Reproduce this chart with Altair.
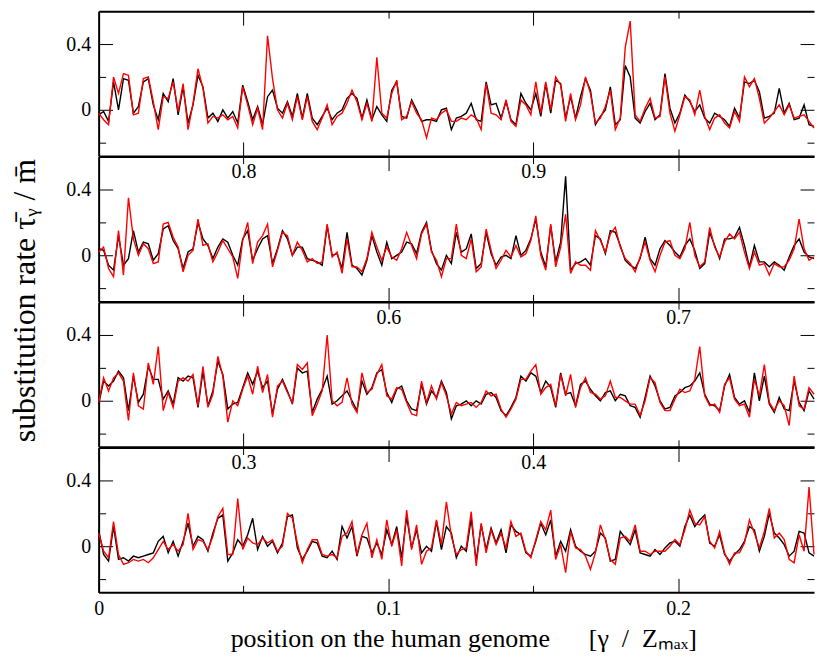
import altair as alt
import pandas as pd

FONT = "Liberation Serif"
SPAN = 0.2469          # visible part of each 0.25-wide strip
PANEL_W = 718
PANEL_H = 145.3
Y_DOMAIN = [-0.28, 0.6]

starts = [0.75, 0.5, 0.25, 0.0]
x_major = {0.75: [0.8, 0.9], 0.5: [0.6, 0.7], 0.25: [0.3, 0.4], 0.0: [0.0, 0.1, 0.2]}
x_minor = {0.75: [0.85, 0.95], 0.5: [0.55, 0.65], 0.25: [0.35, 0.45], 0.0: [0.05, 0.15]}
y_major = [0.0, 0.4]
y_minor = [-0.2, 0.2]

NB = "\u00a0"
y_title = "substitution rate \u03c4\u0304\u1d67 / m\u0304"
x_title = ("position on the human genome" + NB * 6 + "[\u03b3" + NB * 2 + "/" + NB * 2 +
           "Z\u2098\u2090\u2093]")

# strip 0.75 - 1.0
black_075 = [-0.03, -0.01, -0.07, 0.17, 0.00, 0.19, 0.18, -0.02, 0.02, 0.17,
             0.19, 0.03, -0.06, 0.10, 0.05, 0.19, -0.03, 0.14, -0.08, 0.03,
             0.21, 0.14, -0.05, -0.02, -0.07, 0.00, -0.05, -0.01, -0.08, 0.15,
             0.05, -0.06, 0.02, -0.09, 0.08, 0.12, 0.01, -0.02, 0.05, -0.04,
             0.10, -0.05, 0.10, -0.05, -0.09, -0.04, 0.01, -0.06, -0.02, 0.00,
             0.07, 0.10, 0.07, -0.05, 0.06, -0.06, 0.02, -0.03, -0.07, 0.12,
             0.17, -0.04, -0.05, 0.06, 0.00, -0.07, -0.06, -0.06, -0.07, 0.00,
             0.01, -0.12, -0.05, -0.04, -0.02, 0.04, -0.06, -0.07, 0.17, 0.03,
             0.04, -0.05, 0.05, -0.06, -0.09, 0.10, 0.04, 0.00, 0.10, -0.04,
             0.16, -0.02, 0.18, 0.16, -0.05, 0.08, -0.05, 0.08, 0.19, 0.12,
             -0.09, -0.04, 0.00, 0.14, -0.09, -0.06, 0.27, 0.20, -0.05, -0.08,
             -0.01, 0.04, -0.06, -0.03, 0.22, 0.01, -0.08, -0.02, 0.09, 0.05,
             -0.01, 0.03, -0.05, -0.08, -0.02, -0.04, -0.06, -0.10, 0.01, -0.05,
             0.17, 0.16, 0.18, 0.11, -0.05, -0.04, -0.02, 0.13, -0.02, 0.04,
             -0.06, -0.05, 0.03, -0.09, -0.10]
red_075 = [-0.02, -0.06, -0.09, 0.20, 0.10, 0.22, 0.21, -0.03, -0.02, 0.19,
           0.20, 0.05, -0.12, 0.08, 0.07, 0.17, -0.01, 0.16, -0.12, 0.04,
           0.25, 0.13, -0.08, -0.04, -0.05, -0.03, -0.06, -0.04, -0.11, 0.14,
           0.03, -0.09, 0.01, -0.12, 0.45, 0.19, 0.00, -0.05, 0.04, -0.06,
           0.08, -0.06, 0.08, -0.07, -0.12, -0.05, 0.03, -0.09, -0.04, -0.02,
           0.04, 0.12, 0.05, -0.06, 0.04, -0.07, 0.32, -0.02, -0.05, 0.10,
           0.18, -0.06, -0.04, 0.05, -0.02, -0.06, -0.17, -0.05, -0.06, -0.02,
           0.00, -0.07, -0.07, -0.05, -0.06, -0.03, -0.05, -0.12, 0.16, -0.02,
           -0.03, -0.06, 0.06, -0.07, -0.10, 0.06, 0.03, -0.03, 0.17, -0.02,
           0.17, 0.00, 0.20, 0.15, -0.07, 0.10, -0.06, 0.03, 0.20, 0.10,
           -0.08, -0.05, 0.02, 0.12, -0.12, -0.05, 0.38, 0.54, -0.03, -0.07,
           0.01, 0.07, -0.05, -0.04, 0.20, -0.02, -0.13, -0.03, 0.08, 0.06,
           -0.03, 0.12, -0.04, -0.12, -0.05, -0.03, -0.08, -0.11, -0.01, -0.07,
           0.20, 0.14, 0.19, 0.07, -0.08, -0.05, -0.01, 0.03, -0.03, 0.03,
           -0.05, -0.04, -0.03, -0.07, -0.11]

# strip 0.5 - 0.75
black_050 = [0.04, 0.03, -0.06, -0.09, 0.12, -0.06, -0.02, 0.15, 0.02, 0.08,
             0.07, -0.03, 0.01, 0.16, 0.18, 0.09, 0.04, -0.08, 0.02, 0.04,
             0.20, 0.10, 0.06, -0.02, 0.05, 0.10, 0.08, 0.00, -0.06, 0.10,
             0.15, -0.03, 0.04, 0.10, 0.12, -0.05, 0.04, 0.15, 0.10, 0.00,
             0.05, 0.05, -0.02, -0.03, -0.04, -0.06, 0.18, 0.00, 0.01, -0.08,
             0.14, -0.06, -0.08, -0.12, -0.03, 0.12, 0.02, -0.06, 0.08, -0.02,
             0.00, 0.02, 0.08, 0.07, 0.01, 0.14, 0.20, 0.03, -0.05, -0.09,
             0.00, -0.05, 0.14, 0.02, 0.04, 0.13, -0.08, -0.05, 0.14, 0.01,
             -0.06, -0.01, 0.00, -0.02, 0.12, 0.00, 0.03, 0.10, 0.22, 0.02,
             -0.07, 0.18, -0.04, 0.08, 0.48, -0.09, -0.05, -0.04, -0.02, -0.06,
             0.12, 0.10, 0.01, 0.15, 0.14, 0.06, -0.03, -0.06, -0.08, -0.02,
             0.11, -0.02, -0.06, 0.04, 0.09, 0.06, 0.02, -0.01, 0.06, 0.10,
             0.03, -0.08, -0.05, 0.14, 0.06, -0.02, 0.10, 0.10, 0.11, 0.17,
             0.06, -0.07, 0.06, -0.04, -0.04, -0.07, -0.04, -0.06, -0.09, -0.01,
             0.06, 0.10, 0.02, -0.01, -0.02]
red_050 = [0.02, 0.05, -0.08, -0.13, 0.15, -0.12, 0.35, 0.10, 0.00, 0.07,
           0.04, -0.05, -0.04, 0.19, 0.20, 0.11, 0.05, -0.10, 0.00, 0.03,
           0.22, 0.06, 0.07, -0.04, 0.02, 0.09, 0.04, -0.01, -0.14, 0.09,
           0.20, -0.05, 0.08, 0.12, 0.19, -0.07, 0.03, 0.14, 0.12, 0.00,
           0.08, 0.03, -0.04, -0.02, -0.05, -0.04, 0.19, -0.01, 0.02, -0.11,
           0.10, -0.07, -0.07, -0.10, -0.02, 0.14, 0.05, -0.03, 0.05, -0.01,
           -0.03, 0.04, 0.14, 0.06, -0.02, 0.13, 0.19, 0.02, -0.03, -0.13,
           -0.02, -0.02, 0.19, 0.00, -0.02, 0.10, -0.10, -0.07, 0.16, 0.03,
           -0.08, -0.03, 0.03, -0.01, 0.06, -0.01, 0.01, 0.09, 0.24, 0.00,
           -0.09, 0.19, -0.07, 0.05, 0.25, -0.11, -0.04, -0.06, -0.06, -0.09,
           0.15, 0.09, 0.02, 0.13, 0.17, 0.05, -0.02, -0.05, -0.10, -0.01,
           0.08, -0.03, -0.10, 0.00, 0.08, 0.09, 0.00, -0.02, 0.04, 0.20,
           0.00, -0.07, -0.04, 0.17, 0.05, -0.01, 0.08, 0.13, 0.10, 0.14,
           0.02, -0.08, 0.02, -0.06, -0.05, -0.12, -0.05, -0.07, -0.07, -0.03,
           0.04, 0.22, 0.04, -0.03, -0.01]

# strip 0.25 - 0.5
black_025 = [-0.02, 0.12, 0.09, 0.12, 0.18, 0.14, -0.06, 0.15, -0.01, 0.04,
             0.21, 0.13, 0.13, 0.01, 0.06, -0.02, 0.14, 0.12, 0.15, 0.14,
             -0.04, 0.18, -0.03, 0.06, 0.24, 0.16, -0.05, -0.02, -0.01, 0.08,
             0.17, 0.10, 0.18, 0.08, 0.12, -0.08, 0.07, 0.13, 0.06, -0.02,
             0.20, 0.17, 0.18, -0.07, 0.01, 0.07, 0.15, -0.02, 0.00, 0.03,
             0.06, 0.00, -0.06, 0.12, 0.04, 0.08, 0.17, 0.19, 0.05, -0.01,
             0.07, 0.09, 0.00, -0.05, -0.06, 0.10, -0.02, 0.06, 0.02, 0.12,
             0.05, -0.11, -0.03, -0.02, 0.00, -0.03, 0.00, -0.02, 0.04, 0.05,
             0.02, -0.06, -0.09, -0.04, 0.02, 0.15, 0.12, 0.17, 0.15, 0.05,
             0.12, 0.08, -0.04, 0.17, 0.04, 0.05, -0.03, 0.10, 0.12, 0.07,
             0.03, 0.00, 0.05, 0.06, 0.00, 0.04, 0.03, -0.03, -0.04, -0.10,
             0.02, 0.15, 0.09, 0.00, -0.05, -0.04, 0.03, 0.05, 0.08, 0.09,
             0.12, 0.17, 0.04, -0.02, -0.03, -0.06, 0.09, 0.16, 0.02, -0.02,
             0.00, -0.07, 0.17, 0.00, 0.15, -0.02, -0.07, 0.02, -0.05, -0.06,
             0.12, -0.01, -0.06, 0.06, 0.01]
red_025 = [-0.01, 0.14, 0.06, 0.14, 0.17, 0.12, -0.12, 0.17, -0.03, -0.05,
           0.23, 0.10, 0.33, -0.06, 0.05, -0.04, 0.12, 0.14, 0.12, 0.16,
           -0.03, 0.21, -0.04, 0.04, 0.27, 0.15, -0.13, 0.00, -0.03, 0.07,
           0.15, 0.04, 0.21, 0.05, 0.16, -0.10, 0.09, 0.12, 0.05, -0.01,
           0.22, 0.19, 0.23, -0.09, -0.02, 0.06, 0.40, 0.00, -0.03, -0.01,
           0.14, -0.02, -0.07, 0.17, 0.05, 0.07, 0.16, 0.22, 0.03, 0.01,
           0.08, 0.07, -0.01, -0.08, -0.09, 0.12, -0.01, 0.09, 0.01, 0.11,
           0.03, -0.08, -0.01, -0.03, -0.02, -0.01, -0.04, -0.01, 0.06, 0.03,
           0.04, -0.05, -0.10, -0.05, 0.01, 0.13, 0.13, 0.18, 0.22, 0.04,
           0.08, 0.10, -0.03, 0.16, 0.03, 0.16, -0.04, 0.08, 0.14, 0.05,
           0.04, 0.01, 0.03, 0.12, 0.02, 0.02, 0.00, -0.02, -0.02, -0.09,
           0.00, 0.14, 0.11, -0.01, -0.06, -0.06, 0.01, 0.07, 0.05, 0.06,
           0.13, 0.33, 0.03, -0.03, -0.02, -0.07, 0.10, 0.14, 0.01, -0.03,
           -0.02, -0.10, 0.13, 0.03, 0.22, -0.01, -0.06, 0.00, -0.03, -0.15,
           0.15, -0.03, -0.05, 0.08, 0.04]

# strip 0 - 0.25
black_000 = [0.10, -0.05, -0.09, 0.12, -0.08, -0.07, -0.09, -0.06, -0.07, -0.06,
             -0.05, -0.04, 0.03, 0.06, -0.04, 0.03, -0.06, 0.03, 0.14, 0.00,
             0.06, 0.04, -0.03, 0.08, 0.17, 0.19, -0.09, -0.04, 0.04, 0.00,
             0.07, 0.17, -0.02, 0.06, 0.00, 0.03, -0.04, 0.02, 0.18, 0.19,
             -0.01, -0.08, -0.03, 0.03, 0.02, -0.06, -0.07, -0.03, -0.08, 0.12,
             0.05, 0.12, -0.06, 0.06, 0.05, -0.04, 0.02, -0.05, 0.10, 0.01,
             0.12, -0.07, 0.18, -0.01, 0.10, -0.04, 0.00, -0.03, 0.15, -0.02,
             0.12, 0.08, -0.07, 0.00, -0.03, 0.17, -0.09, 0.13, -0.02, 0.11,
             0.02, 0.10, -0.04, 0.13, 0.09, 0.07, -0.04, -0.06, 0.03, 0.14,
             0.07, 0.16, -0.06, 0.03, -0.03, 0.10, 0.00, -0.03, -0.05, -0.06,
             -0.03, 0.08, 0.05, -0.09, -0.08, 0.09, 0.05, 0.01, 0.10, -0.04,
             -0.05, -0.06, -0.02, -0.05, -0.01, 0.02, 0.03, 0.00, 0.12, 0.19,
             0.12, 0.16, 0.19, 0.02, 0.00, 0.07, -0.05, -0.09, -0.05, -0.02,
             0.03, 0.12, 0.10, -0.03, 0.06, 0.20, 0.08, 0.05, 0.01, -0.06,
             -0.03, 0.09, 0.08, -0.04, -0.06]
red_000 = [0.08, -0.03, -0.07, 0.15, -0.05, -0.11, -0.10, -0.08, -0.09, -0.08,
           -0.10, -0.07, -0.02, 0.03, -0.02, 0.01, -0.03, 0.01, 0.20, -0.02,
           0.04, 0.03, -0.02, 0.06, 0.18, 0.23, -0.05, -0.05, 0.29, -0.02,
           0.05, 0.02, 0.01, 0.05, 0.02, 0.04, -0.03, 0.00, 0.20, 0.17,
           0.02, -0.10, -0.02, 0.04, 0.04, -0.05, -0.06, -0.05, -0.07, 0.06,
           0.08, 0.15, -0.05, 0.07, 0.14, -0.07, 0.04, -0.08, 0.16, 0.00,
           0.10, -0.12, 0.22, -0.02, 0.13, -0.11, -0.03, -0.01, 0.16, 0.01,
           0.27, 0.06, -0.05, -0.02, -0.01, 0.21, -0.12, 0.14, -0.04, 0.10,
           0.01, 0.08, -0.01, 0.15, 0.06, 0.08, -0.03, -0.07, 0.04, 0.15,
           0.10, 0.22, -0.08, 0.01, -0.16, 0.09, -0.01, -0.02, -0.06, -0.14,
           -0.04, 0.13, 0.04, -0.08, -0.11, 0.05, 0.06, 0.03, 0.13, -0.03,
           -0.03, -0.05, -0.03, -0.03, -0.03, 0.00, 0.04, 0.01, 0.10, 0.22,
           0.14, 0.13, 0.18, 0.03, -0.01, 0.09, -0.04, -0.11, -0.04, -0.04,
           0.02, 0.16, 0.08, -0.01, 0.09, 0.23, 0.05, 0.08, 0.04, -0.08,
           -0.10, 0.07, -0.03, 0.36, -0.05]

series = {0.75: (black_075, red_075), 0.5: (black_050, red_050),
          0.25: (black_025, red_025), 0.0: (black_000, red_000)}


def tick_axis(orient, offset, size, values, **kw):
    return alt.Axis(orient=orient, offset=offset, tickSize=size, values=values,
                    domain=False, grid=False, ticks=True, tickColor="black",
                    tickWidth=1, **kw)


def label_kw(padding):
    return dict(labels=True, format=".1~f", labelFont=FONT, labelFontSize=20,
                labelColor="black", labelPadding=padding, labelFlush=False,
                labelOverlap=False)


def panel(start, with_y_title, with_x_title):
    black, red = series[start]
    n = len(black)
    pos = [start + i * SPAN / (n - 1) for i in range(n)]
    df = pd.DataFrame({"pos": pos, "black": black, "red": red})
    xs = alt.Scale(domain=[start, start + SPAN], nice=False, zero=False)
    ys = alt.Scale(domain=Y_DOMAIN, nice=False, zero=False)
    base = alt.Chart(df)

    xa_kw = label_kw(6)
    if with_x_title:
        xa_kw.update(titleFont=FONT, titleFontSize=26, titleFontWeight="normal",
                     titleColor="black", titleX=366, titleY=68,
                     titleAlign="center", titleBaseline="alphabetic")
    ya_kw = label_kw(8)
    if with_y_title:
        ya_kw.update(titleFont=FONT, titleFontSize=32, titleFontWeight="normal",
                     titleColor="black", titleAngle=270, titleX=-78, titleY=144,
                     titleAlign="center", titleBaseline="alphabetic")

    xa = tick_axis("bottom", -14, 14, x_major[start], **xa_kw)
    ya = tick_axis("left", -14, 14, y_major, **ya_kw)

    layer_a = base.mark_line(color="black", strokeWidth=1.4).encode(
        x=alt.X("pos:Q", scale=xs, axis=xa, title=x_title if with_x_title else None),
        y=alt.Y("black:Q", scale=ys, axis=ya, title=y_title if with_y_title else None),
    )
    layer_b = base.mark_line(color="#ff0000", strokeWidth=1.4).encode(
        x=alt.X("pos:Q", scale=xs, title=None,
                axis=tick_axis("bottom", -7, 7, x_minor[start], labels=False)),
        y=alt.Y("red:Q", scale=ys, title=None,
                axis=tick_axis("left", -7, 7, y_minor, labels=False)),
    )
    layer_c = base.mark_line(strokeOpacity=0).encode(
        x=alt.X("pos:Q", scale=xs, title=None,
                axis=tick_axis("top", -14, 14, x_major[start], labels=False)),
        y=alt.Y("black:Q", scale=ys, title=None,
                axis=tick_axis("right", -14, 14, y_major, labels=False)),
    )
    layer_d = base.mark_line(strokeOpacity=0).encode(
        x=alt.X("pos:Q", scale=xs, title=None,
                axis=tick_axis("top", -7, 7, x_minor[start], labels=False)),
        y=alt.Y("black:Q", scale=ys, title=None,
                axis=tick_axis("right", -7, 7, y_minor, labels=False)),
    )
    frame_kw = dict(ticks=False, labels=False, domain=True, domainColor="black",
                    domainWidth=2, grid=False)
    layer_e = base.mark_line(strokeOpacity=0).encode(
        x=alt.X("pos:Q", scale=xs, title=None, axis=alt.Axis(orient="bottom", **frame_kw)),
        y=alt.Y("black:Q", scale=ys, title=None, axis=alt.Axis(orient="left", **frame_kw)),
    )
    layer_f = base.mark_line(strokeOpacity=0).encode(
        x=alt.X("pos:Q", scale=xs, title=None, axis=alt.Axis(orient="top", **frame_kw)),
        y=alt.Y("black:Q", scale=ys, axis=None),
    )
    return alt.layer(layer_a, layer_b, layer_c, layer_d, layer_e, layer_f).resolve_axis(
        x="independent", y="independent"
    ).properties(width=PANEL_W, height=PANEL_H)


panels = [panel(s, s == 0.5, s == 0.0) for s in starts]

chart = alt.vconcat(*panels, spacing=0, bounds="flush").properties(
    padding={"left": 8, "top": 9, "right": 0, "bottom": 0},
    background="white",
).configure_view(strokeWidth=0)

chart.save("out.html", embed_options={"renderer": "svg", "actions": False})
